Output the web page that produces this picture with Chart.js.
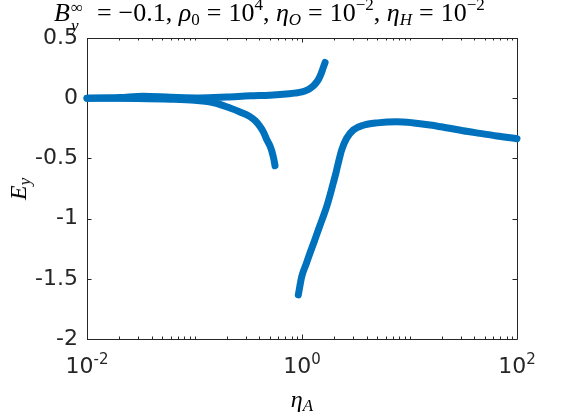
<!DOCTYPE html>
<html><head><meta charset="utf-8">
<script src="https://cdn.jsdelivr.net/npm/chart.js"></script>
<style>
html,body{margin:0;padding:0;background:#fff;}
#wrap{position:relative;width:572px;height:414px;overflow:hidden;background:#fff;}
canvas{position:absolute;left:0;top:0;}
.ov{position:absolute;white-space:nowrap;color:#000;line-height:1;}
.serif{font-family:"Liberation Serif","DejaVu Serif",serif;}
.it{font-style:italic;}
.tick{font-family:"DejaVu Sans",sans-serif;font-size:22px;color:#262626;}
.tick sup{font-size:15px;position:relative;top:-9px;vertical-align:baseline;}
.ss{display:inline-block;position:relative;vertical-align:baseline;width:20px;height:1px;}
.ss .a{position:absolute;left:1px;top:-21px;font-size:17px;}
.ss .b{position:absolute;left:1px;top:-3px;font-size:17px;font-style:italic;}
.sb{font-size:17px;position:relative;top:4px;}
.sp{font-size:17px;position:relative;top:-11px;}
.eq{margin:0 7px;}
</style></head><body>
<div id="wrap"><canvas id="c" width="572" height="414"></canvas></div>
<script>
// ---- data ----
const upperX = [0.01, 0.02, 0.033, 0.06, 0.112, 0.2, 0.33, 0.5, 0.665, 0.85, 1.0, 1.1, 1.19, 1.3, 1.41, 1.5, 1.57, 1.64];
const upperY = [0, 0.005, 0.016, 0.008, 0.002, 0.01, 0.02, 0.025, 0.032, 0.042, 0.052, 0.065, 0.082, 0.11, 0.15, 0.2, 0.25, 0.297];
const lowerX = [0.01, 0.03, 0.06, 0.1, 0.155, 0.214, 0.265, 0.328, 0.37, 0.407, 0.44, 0.472, 0.5, 0.526, 0.545, 0.561];
const lowerY = [0, -0.002, -0.008, -0.018, -0.04, -0.082, -0.115, -0.153, -0.19, -0.236, -0.285, -0.347, -0.39, -0.444, -0.5, -0.561];
const rightX = [0.924, 0.994, 1.09, 1.187, 1.3, 1.418, 1.55, 1.698, 1.83, 1.955, 2.07, 2.176, 2.34, 2.6, 3.0, 3.72, 5.0, 7.6, 10.5, 15.5, 22, 31.5, 45, 64.7, 100];
const rightY = [-1.634, -1.482, -1.38, -1.286, -1.19, -1.095, -1.0, -0.90, -0.80, -0.704, -0.62, -0.538, -0.43, -0.333, -0.264, -0.225, -0.205, -0.195, -0.203, -0.222, -0.245, -0.27, -0.292, -0.314, -0.336];
const yTickValues = [-2, -1.5, -1, -0.5, 0, 0.5];
const yTickLabels = ['-2', '-1.5', '-1', '-0.5', '0', '0.5'];
const xTickValues = [0.01, 1, 100];
const xTickExponents = ['-2', '0', '2'];
const xMin = 0.01, xMax = 100, yMin = -2, yMax = 0.5;

const blue = '#0072BD';
function pts(xs, ys) { return xs.map((x, i) => ({ x: x, y: ys[i] })); }
function ds(xs, ys) {
  return { data: pts(xs, ys), showLine: true, borderColor: blue, backgroundColor: blue,
    borderWidth: 7, pointRadius: 0, borderCapStyle: 'round', borderJoinStyle: 'round',
    clip: false, cubicInterpolationMode: 'monotone' };
}
// minor tick positions on the log axis
const xMinor = [];
for (let k = -2; k < 2; k++) for (let m = 1; m < 10; m++) {
  const v = m * Math.pow(10, k);
  if (!xTickValues.some(t => Math.abs(t - v) < 1e-12)) xMinor.push(v);
}

const boxPlugin = {
  id: 'box',
  beforeDatasetsDraw(chart) {
    const { ctx, chartArea: a, scales: { x, y } } = chart;
    ctx.save();
    ctx.strokeStyle = '#262626';
    ctx.lineWidth = 1;
    ctx.beginPath();
    ctx.rect(Math.round(a.left) + 0.5, Math.round(a.top) + 0.5, Math.round(a.right - a.left), Math.round(a.bottom - a.top));
    ctx.stroke();
    ctx.beginPath();
    yTickValues.forEach(v => {
      const py = Math.round(y.getPixelForValue(v)) + 0.5;
      ctx.moveTo(a.left, py); ctx.lineTo(a.left + 4.5, py);
      ctx.moveTo(a.right, py); ctx.lineTo(a.right - 4.5, py);
    });
    xTickValues.forEach(v => {
      const px = Math.round(x.getPixelForValue(v)) + 0.5;
      ctx.moveTo(px, a.bottom); ctx.lineTo(px, a.bottom - 4.5);
      ctx.moveTo(px, a.top); ctx.lineTo(px, a.top + 4.5);
    });
    xMinor.forEach(v => {
      const px = Math.round(x.getPixelForValue(v)) + 0.5;
      ctx.moveTo(px, a.bottom); ctx.lineTo(px, a.bottom - 2.5);
      ctx.moveTo(px, a.top); ctx.lineTo(px, a.top + 2.5);
    });
    ctx.stroke();
    ctx.restore();
  }
};

const chart = new Chart(document.getElementById('c'), {
  type: 'scatter',
  data: { datasets: [ds(upperX, upperY), ds(lowerX, lowerY), ds(rightX, rightY)] },
  options: {
    responsive: false, animation: false, devicePixelRatio: 1,
    layout: { padding: { left: 0, right: 55, top: 38, bottom: 0 } },
    plugins: { legend: { display: false }, tooltip: { enabled: false }, title: { display: false } },
    scales: {
      x: { type: 'logarithmic', min: xMin, max: xMax,
        ticks: { display: false }, grid: { display: false, drawTicks: false }, border: { display: false },
        afterFit: s => { s.height = 75; } },
      y: { type: 'linear', min: yMin, max: yMax,
        afterBuildTicks: s => { s.ticks = yTickValues.map(v => ({ value: v })); },
        ticks: { callback: v => { const i = yTickValues.indexOf(v); return i >= 0 ? yTickLabels[i] : ''; },
          font: { family: 'DejaVu Sans', size: 22 }, color: '#262626', padding: 9 },
        grid: { display: false, drawTicks: false }, border: { display: false },
        afterFit: s => { s.width = 87; } }
    }
  },
  plugins: [boxPlugin]
});

// ---- overlay text positioned from the chart's scales ----
const wrap = document.getElementById('wrap');
function addDiv(cls, html, style) {
  const d = document.createElement('div');
  d.className = 'ov ' + cls; d.innerHTML = html;
  Object.assign(d.style, style); wrap.appendChild(d); return d;
}
const sx = chart.scales.x, sy = chart.scales.y, area = chart.chartArea;
xTickValues.forEach((v, i) => {
  const px = sx.getPixelForValue(v);
  const d = addDiv('tick', '10<sup>' + xTickExponents[i] + '</sup>', { top: (area.bottom + 16) + 'px', left: px + 'px' });
  d.style.transform = 'translateX(-50%)';
});
const cx = (area.left + area.right) / 2, cy = (area.top + area.bottom) / 2;
addDiv('serif', '<span class="it">&eta;</span><span class="sb it">A</span>',
  { fontSize: '24px', left: cx + 'px', top: (area.bottom + 48) + 'px', transform: 'translateX(-50%)' });
addDiv('serif', '<span class="it">E</span><span class="sb it">y</span>',
  { fontSize: '24px', left: '18px', top: cy + 'px', transform: 'translate(-50%,-50%) rotate(-90deg)' });
addDiv('serif',
  '<span class="it">B</span><span class="ss"><span class="a">&infin;</span><span class="b">y</span></span><span class="eq">=</span>&minus;0.1, ' +
  '<span class="it">&rho;</span><span class="sb">0</span><span class="eq">=</span>10<span class="sp">4</span>, ' +
  '<span class="it">&eta;</span><span class="sb it">O</span><span class="eq">=</span>10<span class="sp">&minus;2</span>, ' +
  '<span class="it">&eta;</span><span class="sb it">H</span><span class="eq">=</span>10<span class="sp">&minus;2</span>',
  { fontSize: '26px', left: '54px', top: '0px' });
</script>
</body></html>
